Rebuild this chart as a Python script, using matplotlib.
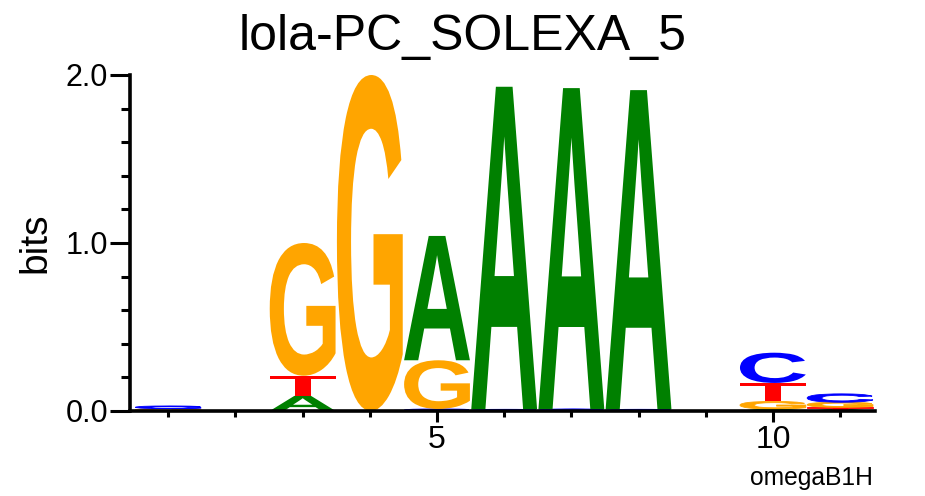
import matplotlib
matplotlib.use('Agg')
import matplotlib.pyplot as plt
from matplotlib.textpath import TextPath
from matplotlib.patches import PathPatch
from matplotlib.font_manager import FontProperties
from matplotlib.transforms import Affine2D
from matplotlib.ticker import FixedLocator, MultipleLocator, FormatStrFormatter

# ---- data (information content in bits per letter, per position) ----
positions = [1, 2, 3, 4, 5, 6, 7, 8, 9, 10, 11]
A_bits = [0.000, 0.0, 0.090, 0.00, 0.740, 1.920, 1.910, 1.900, 0.0, 0.012, 0.010]
C_bits = [0.016, 0.0, 0.000, 0.00, 0.012, 0.010, 0.012, 0.010, 0.0, 0.180, 0.050]
G_bits = [0.014, 0.0, 0.790, 2.00, 0.290, 0.000, 0.000, 0.000, 0.0, 0.045, 0.030]
T_bits = [0.000, 0.0, 0.120, 0.00, 0.000, 0.000, 0.000, 0.000, 0.0, 0.110, 0.012]
letter_colors = {'A': '#008000', 'C': '#0000FF', 'G': '#FFA500', 'T': '#FF0000'}
title = 'lola-PC_SOLEXA_5'
ylabel = 'bits'
footer = 'omegaB1H'
xticks_major = [5, 10]
yticks_major = [0.0, 1.0, 2.0]

fig = plt.figure(figsize=(9.25, 4.96), dpi=100)
ax = fig.add_axes([130/925, 85/496, (875-130)/925, (411-75)/496])

fp = FontProperties(family='Liberation Sans', weight='bold')

def draw_letter(ax, ch, x, y, w, h, color):
    tp = TextPath((0, 0), ch, size=1, prop=fp)
    bb = tp.get_extents()
    tr = (Affine2D().translate(-bb.x0, -bb.y0)
          .scale(w / bb.width, h / bb.height)
          .translate(x - w / 2, y))
    path = tr.transform_path(tp)
    small = h < 0.06
    ax.add_patch(PathPatch(path, facecolor=color,
                           edgecolor=color if small else 'none',
                           linewidth=0.6 if small else 0, zorder=2))

letter_width = 0.98
for i, pos in enumerate(positions):
    stack = [('A', A_bits[i]), ('C', C_bits[i]), ('G', G_bits[i]), ('T', T_bits[i])]
    stack = [s for s in stack if s[1] > 0]
    stack.sort(key=lambda s: s[1])
    y0 = 0.0
    for ch, h in stack:
        draw_letter(ax, ch, pos, y0, letter_width, h, letter_colors[ch])
        y0 += h

ax.set_xlim(0.43, 11.52)
ax.set_ylim(0, 2.0)

for side in ['top', 'right']:
    ax.spines[side].set_visible(False)
for side in ['left', 'bottom']:
    ax.spines[side].set_linewidth(2.6)
    ax.spines[side].set_zorder(3)

ax.xaxis.set_major_locator(FixedLocator(xticks_major))
ax.xaxis.set_minor_locator(MultipleLocator(1))
ax.yaxis.set_major_locator(FixedLocator(yticks_major))
ax.yaxis.set_minor_locator(MultipleLocator(0.2))
ax.yaxis.set_major_formatter(FormatStrFormatter('%.1f'))

tick_font = 'Liberation Sans'
ax.tick_params(axis='x', which='major', length=8, width=2.2, labelsize=23, pad=2)
ax.tick_params(axis='x', which='minor', length=4, width=2.2)
ax.tick_params(axis='y', which='major', length=14.4, width=2.2, labelsize=22, pad=1.5)
ax.tick_params(axis='y', which='minor', length=6.5, width=2.2)
for lab in ax.get_xticklabels() + ax.get_yticklabels():
    lab.set_fontfamily(tick_font)

fig.text(0.5, (496-50)/496, title, ha='center', va='baseline',
         fontsize=36, family='Liberation Sans')
fig.text(35/925, (496-243)/496, ylabel, ha='center', va='center', rotation=90,
         fontsize=28, family='Liberation Sans')
fig.text(873/925, (496-485)/496, footer, ha='right', va='baseline',
         fontsize=17.7, family='Liberation Sans')

fig.savefig('out.png', dpi=100)
